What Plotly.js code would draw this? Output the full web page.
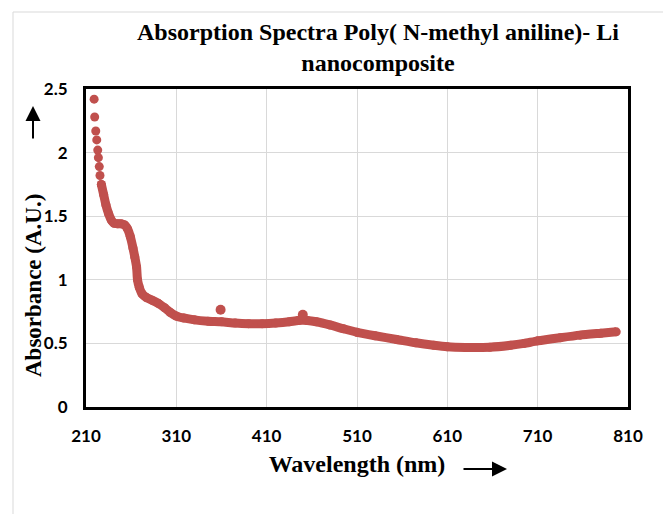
<!DOCTYPE html>
<html>
<head>
<meta charset="utf-8">
<script src="https://cdn.plot.ly/plotly-3.0.1.min.js"></script>
<style>html,body{margin:0;padding:0;background:#fff;}#chart{width:663px;height:514px;}</style>
</head>
<body>
<div id="chart"></div>
<script>
// Steep start: separate dots
const wlStart = [219, 219.6, 220.8, 221.9, 223, 223.7, 224.7, 225.5, 227];
const absStart = [2.42, 2.28, 2.17, 2.10, 2.02, 1.96, 1.89, 1.82, 1.75];

// Main dense curve
const wlMain = [227, 229.5, 232, 235, 238, 241, 245, 249, 253, 256, 259, 262, 264, 266, 267, 269, 272, 277, 283, 290, 297, 303, 310, 318, 330, 345, 360, 375, 390, 405, 420, 435, 445, 455, 465, 480, 495, 510, 530, 554, 575, 595, 610, 630, 657, 680, 695, 710, 735, 757, 780, 797];
const absMain = [1.75, 1.67, 1.59, 1.52, 1.47, 1.445, 1.44, 1.44, 1.43, 1.40, 1.34, 1.25, 1.18, 1.10, 1.00, 0.94, 0.89, 0.86, 0.84, 0.815, 0.78, 0.745, 0.715, 0.70, 0.685, 0.675, 0.67, 0.66, 0.655, 0.655, 0.66, 0.67, 0.68, 0.68, 0.67, 0.645, 0.615, 0.587, 0.56, 0.531, 0.505, 0.485, 0.473, 0.468, 0.47, 0.485, 0.50, 0.52, 0.545, 0.565, 0.58, 0.591];

// Stray points
const wlStray = [359, 450];
const absStray = [0.765, 0.725];

const xTicks = [210, 310, 410, 510, 610, 710, 810];
const yTicks = [0, 0.5, 1, 1.5, 2, 2.5];

const red = '#c0504d';
const traces = [
  {x: wlStart, y: absStart, mode: 'markers', type: 'scatter', marker: {color: red, size: 9}, showlegend: false},
  {x: wlMain, y: absMain, mode: 'lines+markers', type: 'scatter', line: {color: red, width: 9, shape: 'spline', smoothing: 0.6}, marker: {color: red, size: 9}, showlegend: false},
  {x: wlStray, y: absStray, mode: 'markers', type: 'scatter', marker: {color: red, size: 10}, showlegend: false}
];

const W = 663, H = 514, L = 86, R = 35, T = 89, B = 107;
const pw = W - L - R, ph = H - T - B;
const px = v => (v - L) / pw;
const py = v => (H - B - v) / ph;

const tickFont = {family: 'Lato, "Open Sans", sans-serif', size: 17, weight: 'bold', color: '#000'};
const serifBold = {family: '"Liberation Serif", "Times New Roman", serif', weight: 'bold', color: '#000'};

const layout = {
  width: W, height: H,
  margin: {l: L, r: R, t: T, b: B},
  paper_bgcolor: '#fff', plot_bgcolor: '#fff',
  title: {
    text: 'Absorption Spectra Poly( N-methyl aniline)- Li<br>nanocomposite',
    font: Object.assign({size: 24}, serifBold),
    xref: 'container', yref: 'container',
    x: 378 / W, xanchor: 'center',
    y: 1 - 40 / H, yanchor: 'middle'
  },
  xaxis: {
    range: [210, 810], tickvals: xTicks, ticktext: xTicks.map(String),
    showgrid: true, gridcolor: '#d9d9d9', gridwidth: 1,
    showline: true, mirror: true, linecolor: '#000', linewidth: 3,
    zeroline: false, ticks: '', ticklabelstandoff: 12,
    tickfont: tickFont,
    title: {text: 'Wavelength (nm)', font: Object.assign({size: 24}, serifBold), standoff: 10}
  },
  yaxis: {
    range: [0, 2.5], tickvals: yTicks, ticktext: yTicks.map(String),
    showgrid: true, gridcolor: '#d9d9d9', gridwidth: 1,
    showline: true, mirror: true, linecolor: '#000', linewidth: 3,
    zeroline: false, ticks: '', ticklabelstandoff: 12,
    tickfont: tickFont
  },
  annotations: [
    {xref: 'paper', yref: 'paper', x: px(33), y: py(286), text: 'Absorbance (A.U.)', textangle: -90,
     showarrow: false, font: Object.assign({size: 23}, serifBold), xanchor: 'center', yanchor: 'middle'},
    {xref: 'paper', yref: 'paper', x: px(33), y: py(106), ax: 0, ay: 34, text: '',
     showarrow: true, arrowhead: 2, arrowsize: 1.5, arrowwidth: 2, arrowcolor: '#000'},
    {xref: 'paper', yref: 'paper', x: px(507), y: py(469), ax: -45, ay: 0, text: '',
     showarrow: true, arrowhead: 2, arrowsize: 1.5, arrowwidth: 2, arrowcolor: '#000'}
  ],
  shapes: [
    {type: 'rect', xref: 'paper', yref: 'paper', x0: px(13), x1: px(700), y0: py(560), y1: py(12),
     line: {color: '#d9d9d9', width: 1}, fillcolor: 'rgba(0,0,0,0)', layer: 'below'}
  ]
};

Plotly.newPlot('chart', traces, layout, {staticPlot: true, displayModeBar: false});
</script>
</body>
</html>
